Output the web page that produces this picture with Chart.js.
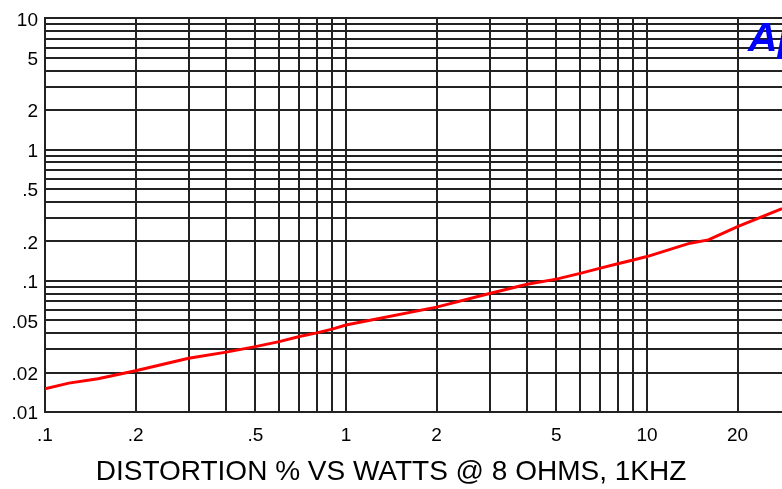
<!DOCTYPE html>
<html>
<head>
<meta charset="utf-8">
<script src="https://cdn.jsdelivr.net/npm/chart.js@4"></script>
<style>
  html, body { margin: 0; padding: 0; background: #fff; }
  #wrap { width: 782px; height: 489px; }
</style>
</head>
<body>
<div id="wrap"><canvas id="chart" width="782" height="489"></canvas></div>
<script>
// potencia (W) e distorcao (%)
const potencia = [0.1, 0.12, 0.15, 0.2, 0.3, 0.4, 0.5, 0.6, 0.7, 0.8, 0.9, 1, 2, 3, 4, 5, 6, 7, 8, 9, 10, 13.9, 16, 20, 28.1];
const distorcao = [0.015, 0.0166, 0.0179, 0.0206, 0.0257, 0.0286, 0.0315, 0.0344, 0.0376, 0.0401, 0.0428, 0.046, 0.063, 0.080, 0.094, 0.103, 0.114, 0.125, 0.135, 0.144, 0.153, 0.1935, 0.205, 0.259, 0.355];

// linhas da grade
const gradeX = [0.1, 0.2, 0.3, 0.4, 0.5, 0.6, 0.7, 0.8, 0.9, 1, 2, 3, 4, 5, 6, 7, 8, 9, 10, 20];
const gradeY = [0.01, 0.02, 0.03, 0.04, 0.05, 0.06, 0.07, 0.08, 0.09,
                0.1, 0.2, 0.3, 0.4, 0.5, 0.6, 0.7, 0.8, 0.9,
                1, 2, 3, 4, 5, 6, 7, 8, 9, 10];

// rotulos mostrados
const rotulosX = [0.1, 0.2, 0.5, 1, 2, 5, 10, 20];
const rotulosY = [0.01, 0.02, 0.05, 0.1, 0.2, 0.5, 1, 2, 5, 10];

const titulo = 'DISTORTION % VS WATTS @ 8 OHMS, 1KHZ';
const logo = 'Ap';

function formatar(v, lista) {
    if (!lista.some(r => Math.abs(r - v) < 1e-9)) return '';
    return v < 1 ? String(v).replace('0.', '.') : String(v);
}

const pontos = potencia.map((p, i) => ({ x: p, y: distorcao[i] }));

const logoPlugin = {
    id: 'logo',
    afterDraw(chart) {
        const ctx = chart.ctx;
        ctx.save();
        ctx.font = 'italic bold 41px "Liberation Sans", Arial, sans-serif';
        ctx.fillStyle = '#0000ff';
        ctx.textBaseline = 'alphabetic';
        ctx.textAlign = 'left';
        ctx.fillText(logo, 748, 51);
        ctx.restore();
    }
};

Chart.defaults.font.family = '"Liberation Sans", Arial, sans-serif';
Chart.defaults.color = '#000';

const ctx = document.getElementById('chart').getContext('2d');
const chart = new Chart(ctx, {
    type: 'line',
    data: {
        datasets: [{
            data: pontos,
            borderColor: '#ff0000',
            borderWidth: 3,
            pointRadius: 0,
            tension: 0,
            fill: false
        }]
    },
    options: {
        responsive: false,
        animation: false,
        layout: { padding: { top: 18, right: 0, left: 0, bottom: 0 } },
        plugins: {
            legend: { display: false },
            tooltip: { enabled: false },
            title: {
                display: true,
                text: titulo,
                position: 'bottom',
                color: '#000',
                font: { size: 28, weight: 'normal' },
                padding: { top: 6, bottom: 0 }
            }
        },
        scales: {
            x: {
                type: 'logarithmic',
                min: 0.1,
                max: 28.1,
                afterBuildTicks: s => { s.ticks = gradeX.map(v => ({ value: v })); },
                afterFit: s => { s.height = 37.4; },
                grid: { color: '#222', lineWidth: 2, drawTicks: false },
                border: { color: '#222', width: 2 },
                ticks: {
                    autoSkip: false,
                    maxRotation: 0,
                    padding: 12,
                    font: { size: 19 },
                    callback: v => formatar(v, rotulosX)
                }
            },
            y: {
                type: 'logarithmic',
                min: 0.01,
                max: 10,
                afterBuildTicks: s => { s.ticks = gradeY.map(v => ({ value: v })); },
                afterFit: s => { s.width = 45; },
                grid: { color: '#222', lineWidth: 2, drawTicks: false },
                border: { color: '#222', width: 2 },
                ticks: {
                    autoSkip: false,
                    padding: 7,
                    labelOffset: 2,
                    font: { size: 19 },
                    callback: v => formatar(v, rotulosY)
                }
            }
        }
    },
    plugins: [logoPlugin]
});
</script>
</body>
</html>
